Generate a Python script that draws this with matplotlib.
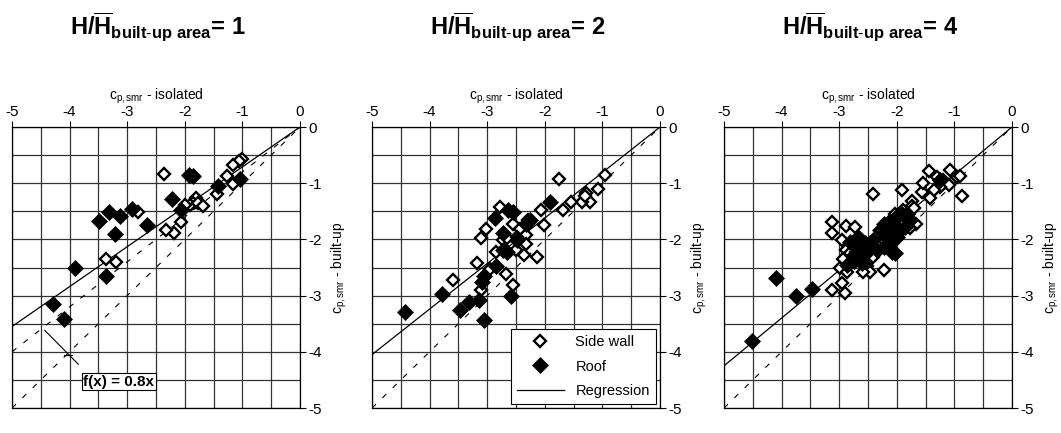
import numpy as np
import matplotlib
matplotlib.use('Agg')
import matplotlib.pyplot as plt

plt.rcParams['font.family'] = ['Liberation Sans', 'DejaVu Sans']
plt.rcParams['mathtext.fontset'] = 'custom'
plt.rcParams['mathtext.rm'] = 'Liberation Sans'
plt.rcParams['mathtext.it'] = 'Liberation Sans:italic'
plt.rcParams['mathtext.bf'] = 'Liberation Sans:bold'
plt.rcParams['axes.unicode_minus'] = False

ratios = [1, 2, 4]

# H/H = 1
wall_x_1 = [-2.36, -1.01, -1.06, -1.16, -1.26, -1.16, -1.05, -1.44, -1.80, -1.86, -1.91, -1.77,
            -1.68, -2.00, -2.06, -2.18, -2.32, -2.81, -3.36, -3.19]
wall_y_1 = [-0.84, -0.57, -0.60, -0.68, -0.88, -1.02, -0.93, -1.19, -1.27, -1.36, -1.39, -1.35,
            -1.41, -1.39, -1.69, -1.88, -1.83, -1.51, -2.35, -2.41]
roof_x_1 = [-1.93, -1.86, -1.05, -1.42, -2.22, -2.07, -2.91, -3.12, -3.32, -3.49, -3.22, -2.65,
            -3.91, -3.36, -4.29, -4.09]
roof_y_1 = [-0.85, -0.87, -0.92, -1.05, -1.29, -1.48, -1.46, -1.58, -1.52, -1.67, -1.91, -1.75,
            -2.51, -2.65, -3.15, -3.42]

# H/H = 2
wall_x_2 = [-1.76, -0.96, -1.08, -1.28, -1.22, -1.35, -1.31, -1.55, -1.68, -2.06, -2.01, -2.78,
            -3.02, -3.11, -2.56, -2.43, -2.32, -2.33, -2.36, -2.13, -2.50, -2.73, -2.84, -3.17,
            -2.95, -3.59, -2.67, -2.55, -3.11, -2.66, -2.49, -2.29]
wall_y_2 = [-0.93, -0.86, -1.10, -1.18, -1.33, -1.33, -1.23, -1.33, -1.48, -1.48, -1.75, -1.43,
            -1.82, -1.97, -1.72, -1.81, -1.93, -2.08, -2.27, -2.32, -2.18, -2.01, -2.22, -2.42,
            -2.52, -2.73, -2.62, -2.81, -2.90, -1.98, -1.95, -1.66]
roof_x_2 = [-1.91, -2.87, -2.64, -2.55, -2.26, -2.32, -2.73, -2.49, -2.73, -2.66, -2.85, -3.05,
            -3.09, -3.14, -3.31, -3.47, -3.79, -4.42, -3.05, -2.58]
roof_y_2 = [-1.34, -1.62, -1.48, -1.52, -1.66, -1.72, -1.88, -2.01, -2.19, -2.22, -2.47, -2.66,
            -2.75, -3.07, -3.12, -3.25, -2.98, -3.30, -3.43, -3.01]

# H/H = 4
wall_x_4 = [-1.44, -1.08, -0.96, -0.90, -1.19, -1.10, -1.25, -1.36, -0.87, -1.57, -1.42, -2.42,
            -1.91, -1.73, -1.74, -1.67, -1.77, -1.89, -1.83, -1.91, -2.06, -2.03, -3.13, -3.13,
            -2.88, -2.73, -2.96, -2.88, -2.93, -2.81, -2.70, -2.58, -2.52, -2.46, -2.58, -2.23,
            -2.99, -2.87, -2.96, -3.13, -2.90, -2.75, -2.49, -2.41, -2.23, -2.09, -1.71, -1.54,
            -1.31]
wall_y_4 = [-0.79, -0.77, -0.89, -0.88, -0.95, -1.03, -1.06, -1.12, -1.23, -1.15, -1.27, -1.19,
            -1.12, -1.32, -1.41, -1.73, -1.79, -1.48, -1.59, -1.69, -1.62, -1.54, -1.69, -1.89,
            -1.77, -1.78, -2.01, -2.19, -2.34, -2.25, -2.22, -2.28, -2.48, -2.58, -2.58, -2.54,
            -2.51, -2.58, -2.78, -2.90, -2.95, -2.07, -2.19, -2.31, -2.01, -1.81, -1.45, -1.00,
            -0.89]
roof_x_4 = [-4.51, -4.09, -3.75, -3.48, -2.81, -2.70, -2.75, -2.64, -2.52, -2.46, -2.41, -2.61,
            -2.75, -2.87, -2.35, -2.23, -2.12, -2.00, -2.09, -2.03, -2.18, -2.23, -2.12, -2.00,
            -1.91, -1.83, -2.00, -1.94, -1.86, -2.12, -1.77, -2.29, -2.55, -2.67, -1.25]
roof_y_4 = [-3.81, -2.69, -3.00, -2.88, -2.04, -2.13, -2.28, -2.31, -2.22, -2.07, -2.01, -2.42,
            -2.39, -2.45, -2.19, -2.13, -2.07, -1.95, -2.22, -2.25, -1.95, -1.72, -1.69, -1.59,
            -1.54, -1.54, -1.78, -1.83, -1.78, -1.83, -1.66, -1.83, -2.07, -1.95, -0.95]

# regression slopes (lines through the origin)
slopes = [0.71, 0.81, 0.85]

panels = [
    (wall_x_1, wall_y_1, roof_x_1, roof_y_1),
    (wall_x_2, wall_y_2, roof_x_2, roof_y_2),
    (wall_x_4, wall_y_4, roof_x_4, roof_y_4),
]

fig = plt.figure(figsize=(10.61, 4.33), dpi=100)
lefts = [12, 372, 724]
W, H = 1061.0, 433.0
ticks = list(range(-5, 1))
minor = [v + 0.5 for v in range(-5, 0)]

for i, (wx, wy, rx, ry) in enumerate(panels):
    ax = fig.add_axes([lefts[i] / W, 25 / H, 288 / W, 281 / H])
    ax.set_xlim(-5, 0)
    ax.set_ylim(-5, 0)

    ax.set_xticks(ticks)
    ax.set_yticks(ticks)
    ax.set_xticks(minor, minor=True)
    ax.set_yticks(minor, minor=True)
    ax.grid(True, which='both', color='#333333', linewidth=0.9)
    ax.set_axisbelow(True)

    ax.xaxis.tick_top()
    ax.yaxis.tick_right()
    ax.xaxis.set_label_position('top')
    ax.yaxis.set_label_position('right')
    ax.tick_params(which='major', direction='out', length=4, width=0.8, labelsize=11, pad=2)
    ax.tick_params(which='minor', length=0)
    for s in ax.spines.values():
        s.set_linewidth(0.9)

    ax.set_xlabel(r'c$_{\mathrm{p,smr}}$ - isolated', fontsize=10, labelpad=4)
    ax.set_ylabel(r'c$_{\mathrm{p,smr}}$ - built-up', fontsize=10, rotation=90, labelpad=6)

    xs = np.array([-5.0, 0.0])
    ax.plot(xs, xs, color='black', linewidth=0.8, linestyle=(0, (5, 8)))
    if i == 0:
        ax.plot(xs, 0.8 * xs, color='black', linewidth=0.8, linestyle=(0, (5, 8)))
    ax.plot(xs, slopes[i] * xs, color='black', linewidth=0.9, label='Regression')

    ax.plot(wx, wy, linestyle='none', marker='D', markersize=6.3, markerfacecolor='white',
            markeredgecolor='black', markeredgewidth=1.7, label='Side wall', zorder=3)
    ax.plot(rx, ry, linestyle='none', marker='D', markersize=7.8, markerfacecolor='black',
            markeredgecolor='black', markeredgewidth=0.5, label='Roof', zorder=3)

    if i == 0:
        ax.plot([-4.43, -3.85], [-3.62, -4.22], color='black', linewidth=0.8)
        ax.plot([-4.1, -3.95], [-4.05, -4.05], color='black', linewidth=0.8)
        ax.text(-3.76, -4.53, 'f(x) = 0.8x', fontsize=11, fontweight='bold', va='center', ha='left',
                bbox=dict(boxstyle='square,pad=0.1', facecolor='white', edgecolor='black', linewidth=0.8))
    if i == 1:
        handles, labels = ax.get_legend_handles_labels()
        order = [1, 2, 0]
        leg = ax.legend([handles[k] for k in order], [labels[k] for k in order], loc='lower right',
                        fontsize=10.5, fancybox=False, edgecolor='black', framealpha=1,
                        borderaxespad=0.25, handlelength=3.2, labelspacing=0.7, borderpad=0.45)
        leg.get_frame().set_linewidth(0.8)

    cx = (lefts[i] + 146) / W
    fig.text(cx, 1 - 27 / H,
             r'$\mathbf{H/\overline{H}}_{\mathbf{built\text{-}up\ area}}$= %d' % ratios[i],
             fontsize=17, fontweight='bold', ha='center', va='center')

fig.savefig('out.png', dpi=100)
